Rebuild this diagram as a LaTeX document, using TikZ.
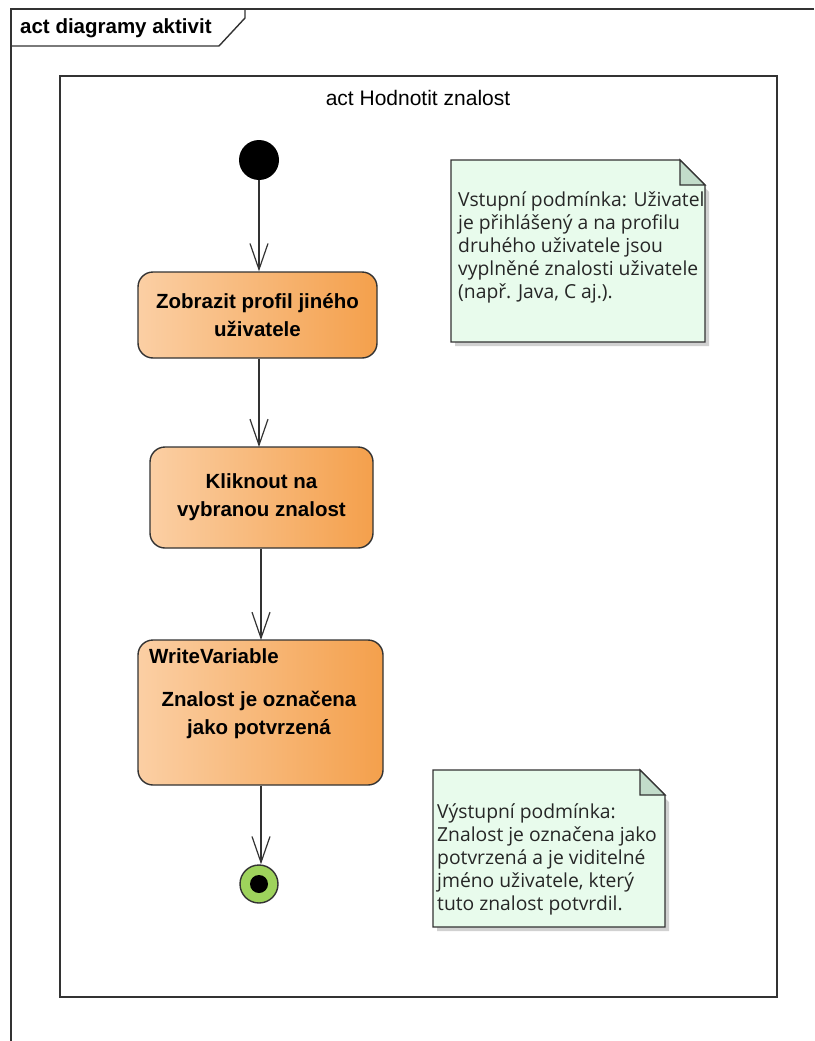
\documentclass[tikz,border=0pt]{standalone}
\usepackage{fontspec}
\setmainfont{Liberation Sans}
\newfontfamily\notefont{Open Sans}
\usetikzlibrary{arrows.meta,calc}
\definecolor{lineC}{HTML}{333333}
\definecolor{orL}{HTML}{FBCFA4}
\definecolor{orR}{HTML}{F4A04C}
\definecolor{noteC}{HTML}{E8FBEC}
\definecolor{foldC}{HTML}{C2DCCA}
\definecolor{finC}{HTML}{9ED35C}
\tikzset{
  every picture/.style={x=1pt,y=-1pt},
  ln/.style={draw=lineC,line width=1.4pt},
  act/.style={ln,rounded corners=15pt,left color=orL,right color=orR,align=center,
    font=\fontsize{20.5}{28}\selectfont\bfseries,inner sep=0pt},
  flow/.style={draw=lineC,line width=1.2pt,-{Straight Barb[length=26pt,width=18pt,line width=1.2pt]}},
  notetext/.style={align=left,font=\notefont\fontsize{19.3}{22.8}\selectfont,inner sep=0pt,anchor=north west,text=black!85}
}
\begin{document}
\begin{tikzpicture}
\useasboundingbox (0,0) rectangle (814,1041);
\fill[white] (0,0) rectangle (814,1041);
% outer frame
\draw[ln] (814,9) -- (11,9) -- (11,1041);
\draw[ln] (11,46) -- (219,46) -- (245,18) -- (245,9);
\node[anchor=west,font=\fontsize{20.5}{24}\selectfont\bfseries,inner sep=0pt] (ftitle) at (20,28) {act diagramy aktivit};
% inner frame
\draw[ln] (60,76) rectangle (777,997);
\node[font=\fontsize{21}{24}\selectfont,inner sep=0pt] (ititle) at (418,98) {act Hodnotit znalost};
% initial node
\node[circle,fill=black,minimum size=40pt,inner sep=0pt] (init) at (259,160) {};
% actions
\node[act,minimum width=239pt,minimum height=86pt] (a1) at (257.5,315) {Zobrazit profil jiného\\uživatele};
\node[act,minimum width=223pt,minimum height=101pt] (a2) at (261.5,497.5) {Kliknout na\\vybranou znalost};
\node[act,minimum width=245pt,minimum height=145pt] (a3) at (260.5,712.5) {};
\node[anchor=west,font=\fontsize{20.5}{24}\selectfont\bfseries,inner sep=0pt] (a3s) at (149,656) {WriteVariable};
\node[align=center,font=\fontsize{20.5}{28}\selectfont\bfseries,inner sep=0pt] (a3t) at (259,715) {Znalost je označena\\jako potvrzená};
% final node
\node[circle,ln,fill=finC,minimum size=38pt,inner sep=0pt] (fin) at (259,884) {};
\node[circle,fill=black,minimum size=18pt,inner sep=0pt] (fin2) at (fin) {};
% flows
\draw[flow] (init) -- (init |- a1.north);
\draw[flow] (a1.south -| 259,0) -- (259,447);
\draw[flow] (a2.south -| 261,0) -- (261,640);
\draw[flow] (a3.south -| 261,0) -- (fin.north -| 261,0);
% note 1
\coordinate (n1a) at (451,160);
\coordinate (n1b) at (705,342);
\fill[black!18] (455,164) -- (681,164) -- (709,192) -- (709,346) -- (455,346) -- cycle;
\draw[ln,fill=noteC] (n1a) -- (680,160) -- (n1b |- 0,185) -- (n1b) -- (n1a |- n1b) -- cycle;
\draw[ln,fill=foldC] (680,160) -- (680,185) -- (705,185) -- cycle;
\node[notetext] (n1) at (458,192) {Vstupní podmínka: Uživatel\\je přihlášený a na profilu\\druhého uživatele jsou\\vyplněné znalosti uživatele\\(např. Java, C aj.).};
% note 2
\coordinate (n2a) at (433,770);
\coordinate (n2b) at (665,927);
\fill[black!18] (437,774) -- (641,774) -- (669,802) -- (669,931) -- (437,931) -- cycle;
\draw[ln,fill=noteC] (n2a) -- (640,770) -- (n2b |- 0,795) -- (n2b) -- (n2a |- n2b) -- cycle;
\draw[ln,fill=foldC] (640,770) -- (640,795) -- (665,795) -- cycle;
\node[notetext] (n2) at (437,804) {Výstupní podmínka:\\Znalost je označena jako\\potvrzená a je viditelné\\jméno uživatele, který\\tuto znalost potvrdil.};
\end{tikzpicture}
\end{document}
